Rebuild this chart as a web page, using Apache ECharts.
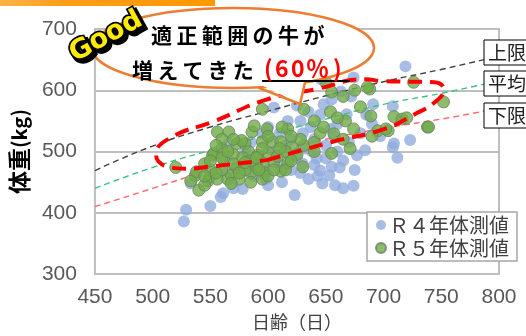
<!DOCTYPE html>
<html>
<head>
<meta charset="utf-8">
<script src="https://cdn.jsdelivr.net/npm/echarts@6/dist/echarts.min.js"></script>
<style>
  html, body { margin: 0; padding: 0; background: #fff; }
  #chart { width: 526px; height: 336px; }
</style>
</head>
<body>
<div id="chart"></div>
<script>
// Axis ticks
const xTicks = [450, 500, 550, 600, 650, 700, 750, 800];
const yTicks = [300, 400, 500, 600, 700];

// Body weight measurements: [age in days, weight in kg]
const r4Points = [
  [719,639],[674,621],[646,618],[663,598],[655,585],[648,577],[691,577],[708,574],
  [668,561],[617,550],[628,550],[637,540],[654,537],[600,540],[610,530],[630,530],
  [620,520],[640,520],[650,510],[660,500],[670,515],[680,530],[690,545],[660,545],
  [645,560],[635,565],[625,575],[605,572],[595,530],[585,515],[566,513],[580,500],
  [590,480],[600,470],[610,480],[620,470],[630,480],[640,478],[655,475],[662,474],
  [665,485],[675,470],[635,455],[625,490],[615,510],[605,500],[575,475],[565,468],
  [598,455],[612,450],[570,440],[578,439],[561,432],[559,426],[550,411],[529,405],
  [527,386],[533,448],[623,429],[628,465],[643,460],[653,461],[645,469],[647,448],
  [658,445],[665,440],[674,444],[650,489],[642,489],[638,500],[677,494],[684,502],
  [708,507],[709,513],[723,519],[712,490],[672,590],[685,560],[697,525],[657,525],
  [632,505],[618,495],[588,460],[600,445]
];
const r5Points = [
  [520,474],[537,461],[533,452],[540,437],[548,452],[549,458],[545,445],[538,467],
  [556,455],[565,455],[568,462],[575,455],[585,465],[573,474],[562,485],[552,494],
  [553,497],[573,513],[580,513],[583,500],[591,494],[596,481],[597,465],[605,484],
  [617,481],[611,468],[556,532],[566,532],[577,518],[586,532],[588,542],[595,569],
  [595,516],[604,516],[611,516],[599,537],[617,537],[631,569],[654,565],[667,550],
  [680,573],[688,602],[650,613],[655,597],[665,590],[686,605],[689,558],[695,534],
  [704,534],[738,540],[655,497],[671,505],[674,537],[657,529],[631,510],[621,508],
  [726,613],[752,581],[709,557],[716,553],[739,540],[702,537],
  [560,505],[570,495],[578,490],[600,498],[608,492],[615,500],[625,495],[628,520],
  [640,515],[645,530],[620,525],[612,540],[600,525],[570,520],[560,520],
  [640,550],[648,540],[665,520],[690,525],[720,555],[560,470],[570,480],[590,475],
  [580,470],[550,470],[545,480],[585,485],[595,505],[610,505],[630,475],[640,500],
  [660,555],[675,600],[545,460],[555,465],[560,490],[575,465],[585,450],[595,455],
  [590,490],[600,460],[605,470],[615,470],[620,485],[565,500],[555,510],[550,485],
  [580,482],[568,448],[592,470]
];

// Growth reference curves
const upperLimit = [[450,469],[500,509],[550,540],[600,566],[650,591],[700,614],[750,634],[787,650]];
const averageLine = [[450,440],[500,474],[550,502],[600,527],[650,553],[700,577],[750,595],[787,610]];
const lowerLimit = [[450,410],[500,440],[550,470],[600,497],[650,520],[700,538],[750,553],[787,566]];
const refNames = ['上限', '平均', '下限'];

// Outline of the appropriate-range group
const targetZone = [
  [599,486],[656,516],[701,537],[727,561],[744,580],[752,601],[744,613],[699,615],
  [684,618],[642,602],[599,585],[554,550],[514,521],[503,494],[505,484],[512,476],
  [529,472],[552,476],[599,486]
];

const seriesNames = ['Ｒ４年体測値', 'Ｒ５年体測値'];
const calloutLine1 = '適正範囲の牛が';
const calloutLine2 = '増えてきた';
const calloutRate = ['(', '6', '0', '％', ')'];

const JP = '"Noto Sans CJK JP", "Noto Sans", sans-serif';
const NUM = '"Liberation Sans Narrow", "Liberation Sans", sans-serif';

function spacedChars(chars, xs, y, font, fill) {
  return chars.map((c, i) => ({
    type: 'text', z: 120,
    x: xs[i], y: y,
    style: { text: c, font: font, fill: fill, verticalAlign: 'middle', align: 'left' }
  }));
}
function evenly(n, x0, step) {
  const a = [];
  for (let i = 0; i < n; i++) a.push(x0 + i * step);
  return a;
}

const chart = echarts.init(document.getElementById('chart'), null, { renderer: 'canvas' });

const refLineStyle = (color) => ({ color: color, width: 1.4, type: [6, 4] });

const graphics = [
  // decorative bar at the top left
  {
    type: 'rect', z: 100, shape: { x: 0, y: 0, width: 215, height: 6 },
    style: { fill: new echarts.graphic.LinearGradient(0, 0, 1, 0, [
      { offset: 0, color: '#ffb347' }, { offset: 0.3, color: '#ff9d1a' }, { offset: 1, color: '#ff9900' }
    ]) }
  },
  // speech bubble
  {
    type: 'ellipse', z: 110, shape: { cx: 233, cy: 48, rx: 141, ry: 40 },
    style: { fill: '#fff', stroke: '#ed7d31', lineWidth: 2.5 }
  },
  {
    type: 'polygon', z: 111, shape: { points: [[259, 84], [300, 104], [305, 80]] },
    style: { fill: '#fff' }
  },
  {
    type: 'polyline', z: 112, shape: { points: [[258, 87.5], [300, 104], [305, 82.5]] },
    style: { stroke: '#ed7d31', lineWidth: 2.5, fill: null }
  },
  // underline for the rate
  {
    type: 'line', z: 120, shape: { x1: 262, y1: 81, x2: 350, y2: 81 },
    style: { stroke: '#000', lineWidth: 2 }
  },
  // "Good" sticker
  {
    type: 'text', z: 130, x: 109, y: 40, rotation: 0.5,
    style: { text: 'Good', font: 'bold 27px "DejaVu Sans"', fill: '#000', stroke: '#000', lineWidth: 5,
             align: 'center', verticalAlign: 'middle' }
  },
  {
    type: 'text', z: 131, x: 106, y: 37, rotation: 0.5,
    style: { text: 'Good', font: 'bold 27px "DejaVu Sans"', fill: '#ffec00', stroke: '#000', lineWidth: 3.5,
             align: 'center', verticalAlign: 'middle' }
  }
].concat(
  spacedChars(calloutLine1.split(''), evenly(7, 151, 25.4), 35, 'bold 21px ' + JP, '#000'),
  spacedChars(calloutLine2.split(''), evenly(5, 132, 25.2), 70, 'bold 21px ' + JP, '#000'),
  spacedChars(calloutRate, [264, 275, 291, 306, 333], 68, 'bold 23px ' + JP, '#ff0000')
);

// reference line labels
const refBoxTops = [40, 71, 103];
refNames.forEach((name, i) => {
  graphics.push({
    type: 'rect', z: 100, shape: { x: 484, y: refBoxTops[i], width: 60, height: 25 },
    style: { fill: '#fff', stroke: '#000', lineWidth: 1 }
  });
  graphics.push({
    type: 'text', z: 101, x: 488, y: refBoxTops[i] + 13,
    style: { text: name, font: '19px ' + JP, fill: '#222', verticalAlign: 'middle', align: 'left' }
  });
});

const option = {
  animation: false,
  backgroundColor: '#fff',
  grid: {
    left: 87, right: 27, top: 29, bottom: 59,
    show: true, borderColor: '#bfbfbf', borderWidth: 2, backgroundColor: 'transparent'
  },
  xAxis: {
    type: 'value',
    min: xTicks[0], max: xTicks[xTicks.length - 1], interval: xTicks[1] - xTicks[0],
    axisLine: { show: false }, axisTick: { show: false }, splitLine: { show: false },
    axisLabel: { color: '#595959', fontSize: 21, fontFamily: NUM, margin: 13 },
    name: '日齢（日）', nameLocation: 'middle', nameGap: 38,
    nameTextStyle: { color: '#404040', fontSize: 18, fontFamily: JP }
  },
  yAxis: {
    type: 'value',
    min: yTicks[0], max: yTicks[yTicks.length - 1], interval: yTicks[1] - yTicks[0],
    axisLine: { show: false }, axisTick: { show: false },
    splitLine: { show: true, lineStyle: { color: '#bfbfbf', width: 2 } },
    axisLabel: { color: '#595959', fontSize: 21, fontFamily: NUM, margin: 18 },
    name: '{b|体重}{n|(kg)}', nameLocation: 'middle', nameGap: 53, nameRotate: 90,
    nameTextStyle: {
      rich: {
        b: { fontSize: 23, fontWeight: 'bold', color: '#000', fontFamily: JP },
        n: { fontSize: 20, fontWeight: 'bold', color: '#000', fontFamily: JP }
      }
    }
  },
  legend: {
    orient: 'vertical', left: 367, top: 212,
    backgroundColor: '#fff', borderColor: '#a6a6a6', borderWidth: 1.5,
    padding: [3, 8, 3, 8], itemGap: 3, itemWidth: 10, itemHeight: 10,
    icon: 'circle',
    textStyle: { fontSize: 20, fontFamily: JP, color: '#404040', padding: [0, 0, 0, -2] },
    data: seriesNames
  },
  series: [
    {
      name: seriesNames[0], type: 'scatter', data: r4Points, symbolSize: 12, z: 2,
      itemStyle: { color: '#8faadc', opacity: 0.78 }
    },
    {
      name: refNames[0], type: 'line', data: upperLimit, smooth: true, symbol: 'none', z: 3,
      lineStyle: refLineStyle('#404040'), silent: true
    },
    {
      name: refNames[1], type: 'line', data: averageLine, smooth: true, symbol: 'none', z: 3,
      lineStyle: refLineStyle('#3cc47c'), silent: true
    },
    {
      name: refNames[2], type: 'line', data: lowerLimit, smooth: true, symbol: 'none', z: 3,
      lineStyle: refLineStyle('#ff6666'), silent: true
    },
    {
      name: seriesNames[1], type: 'scatter', data: r5Points, symbolSize: 12, z: 4,
      itemStyle: { color: '#70ad47', borderColor: '#6b7f62', borderWidth: 1 }
    },
    {
      name: 'zone', type: 'line', data: targetZone, smooth: 0.5, symbol: 'none', z: 5,
      lineStyle: { color: '#ff0000', width: 4, type: [14, 8] }, silent: true
    }
  ],
  graphic: { elements: graphics }
};

chart.setOption(option);
</script>
</body>
</html>
